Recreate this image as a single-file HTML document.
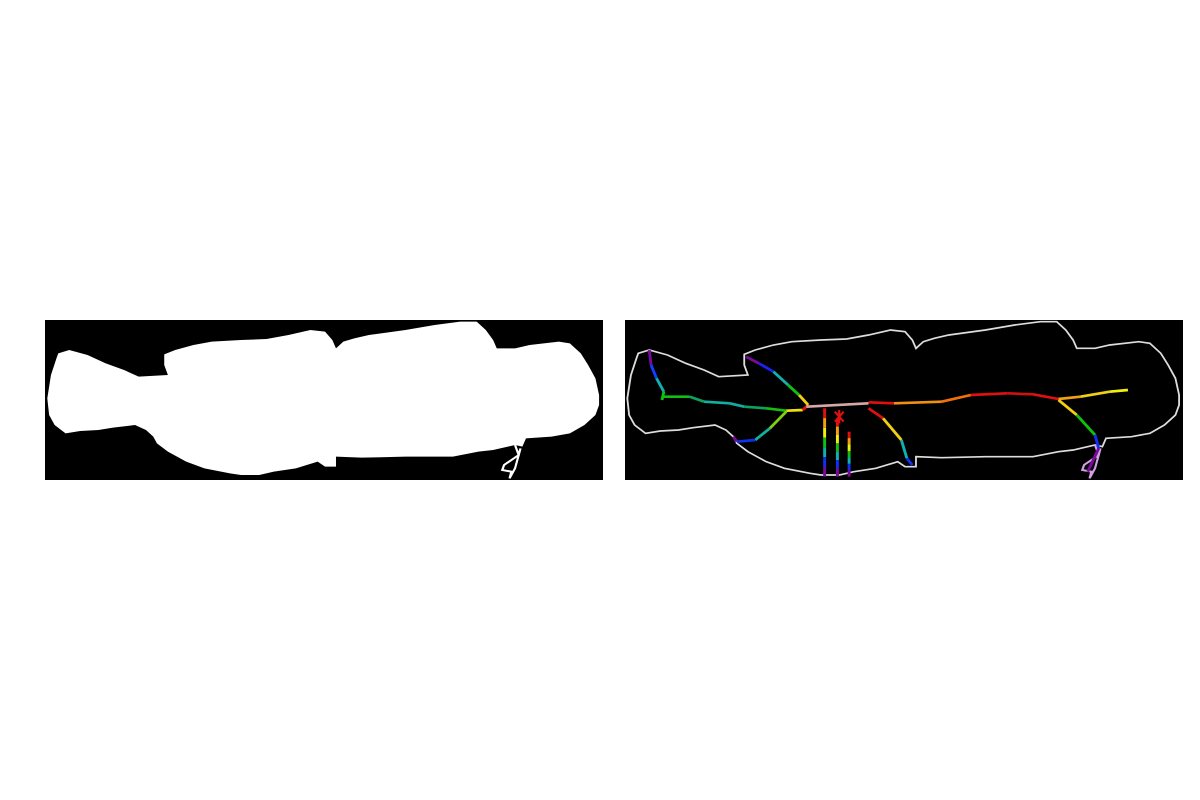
<!DOCTYPE html>
<html><head><meta charset="utf-8"><style>
html,body{margin:0;padding:0;background:#fff;width:1200px;height:800px;overflow:hidden}
svg{position:absolute;top:320px}
</style></head><body>
<svg id="mask" style="left:45px" width="558" height="160" viewBox="13.7 15 1527 480" preserveAspectRatio="none"><rect x="0" y="0" width="1600" height="520" fill="#000"/></svg>
<svg id="skel" style="left:625px" width="558" height="160" viewBox="13.7 15 1527 480" preserveAspectRatio="none"><rect x="0" y="0" width="1600" height="520" fill="#000"/></svg>
<script>
const outline=[[50,115],[80,105],[130,120],[180,145],[230,165],[270,185],[350,180],[340,150],[340,118],[370,105],[420,90],[470,80],[550,75],[620,72],[680,60],[740,45],[780,50],[800,75],[810,100],[830,80],[860,70],[900,60],[1000,45],[1080,30],[1150,20],[1195,20],[1220,45],[1240,75],[1250,100],[1300,100],[1340,90],[1420,80],[1450,85],[1480,115],[1500,150],[1520,190],[1530,240],[1530,270],[1520,300],[1490,330],[1450,355],[1400,365],[1330,370],[1320,395],[1300,390],[1240,405],[1200,410],[1130,425],[1000,425],[880,428],[810,425],[810,455],[780,455],[760,440],[700,460],[640,470],[600,480],[550,480],[520,475],[450,460],[400,440],[350,410],[320,385],[310,365],[290,345],[260,330],[200,338],[160,345],[110,348],[70,355],[40,330],[25,300],[20,250],[30,180],[45,130]];
const fin=[[1300,390],[1310,420],[1270,450],[1265,465],[1290,470],[1285,490],[1300,460],[1315,400]];
const branches=[
 [[80,105,'#7a0a9a'],[85,150,'#1040ff'],[100,190,'#10b0b0'],[120,230,'#10c010'],[115,255,'#10c010']],
 [[120,245,'#10c010'],[190,245,'#10a060'],[230,260,'#10b0a0'],[300,265,'#10b0a0'],[340,275,'#10a060'],[400,280,'#10c010'],[455,287,'#f0e010'],[500,285,'#e01010'],[515,270,'#e01010']],
 [[455,290,'#80d010'],[410,340,'#10b0a0'],[370,375,'#1030f0'],[320,380,'#7a0a9a'],[310,365,'#7a0a9a']],
 [[345,125,'#7a0a9a'],[380,145,'#2020f0'],[420,170,'#10b0b0'],[460,210,'#10c010'],[490,240,'#f0d010'],[515,270,'#e01010']],
 [[510,275,'#d8a8a8'],[680,265,'#d8a8a8']],
 [[680,280,'#e01010'],[720,310,'#f0d010'],[770,375,'#10b0b0'],[785,430,'#1030f0'],[800,450,'#7a0a9a']],
 [[680,262,'#e01010'],[750,265,'#f09010'],[880,260,'#f07010'],[960,240,'#e01010'],[1060,235,'#d01010'],[1130,238,'#e01010'],[1200,252,'#f0a010'],[1260,245,'#f0d010'],[1340,230,'#f0f010'],[1390,225,'#f0f010']],
 [[1200,255,'#f0d010'],[1250,300,'#10c010'],[1300,360,'#1030f0'],[1310,400,'#7a0a9a'],[1280,470,'#7a0a9a']]
];
const verts=[[560,280],[595,310],[627,350]];
const rainbow=['#e01010','#f0a010','#f0f010','#10c010','#10b0b0','#1030f0','#7a0a9a'];
const NS='http://www.w3.org/2000/svg';
function mk(t,a,p){const e=document.createElementNS(NS,t);for(const k in a)e.setAttribute(k,a[k]);p.appendChild(e);return e;}
const pts=outline.map(p=>p.join(',')).join(' ');
const m=document.getElementById('mask'),s=document.getElementById('skel');
const mp=mk('polygon',{points:pts,fill:'#fff'},m);


const mf=mk('polyline',{points:fin.map(p=>p.join(',')).join(' '),fill:'none',stroke:'#fff','stroke-width':6},m);


const so=mk('polygon',{points:pts,fill:'none',stroke:'#ddd','stroke-width':5},s);


const sf=mk('polyline',{points:fin.map(p=>p.join(',')).join(' '),fill:'none',stroke:'#d0a0e0','stroke-width':6},s);


branches.forEach(b=>{for(let i=0;i<b.length-1;i++){const l=mk('line',{x1:b[i][0],y1:b[i][1],x2:b[i+1][0],y2:b[i+1][1],stroke:b[i][2],'stroke-width':8},s);

}});
verts.forEach(v=>{const n=rainbow.length,len=485-v[1];rainbow.forEach((c,i)=>{const l=mk('line',{x1:v[0],y1:v[1]+len*i/n,x2:v[0],y2:v[1]+len*(i+1)/n,stroke:c,'stroke-width':8},s);

});});
const x=mk('path',{d:'M588,290 L612,320 M612,290 L588,320 M600,285 L600,325',stroke:'#e01010','stroke-width':6},s);


</script>
</body></html>
